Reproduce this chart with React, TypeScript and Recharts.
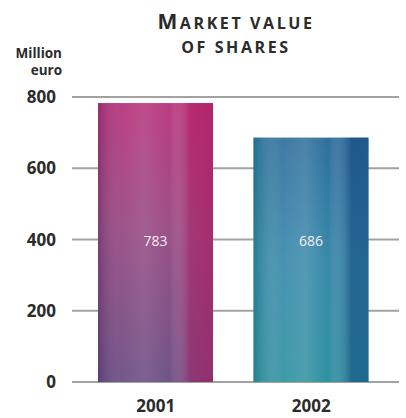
import { BarChart, Bar, XAxis, YAxis, CartesianGrid, LabelList } from 'recharts'

const years = ['2001', '2002']
const marketValue = [783, 686]
const yTicks = [0, 200, 400, 600, 800]

const data = years.map((year, i) => ({ year, value: marketValue[i] }))

const font = '"Open Sans", "DejaVu Sans", sans-serif'

// each bar gets a vertical base gradient plus a streaky horizontal overlay
const BarShape = (props: any) => {
  const { x, y, width, height, index } = props
  const id = index === 0 ? 'pink' : 'blue'
  return (
    <g>
      <rect x={x} y={y} width={width} height={height} fill={`url(#${id}-base)`} />
      <rect x={x} y={y} width={width} height={height} fill={`url(#${id}-streak)`} />
    </g>
  )
}

const ValueLabel = (props: any) => {
  const { x, y, width, height, value } = props
  return (
    <text
      x={x + width / 2}
      y={y + height - 140}
      textAnchor="middle"
      dominantBaseline="middle"
      fill="#f4eef4"
      fontSize={14}
      fontFamily={font}
    >
      {value}
    </text>
  )
}

export default function App() {
  return (
    <div style={{ position: 'absolute', left: 0, top: 0, width: 406, height: 418, background: '#fff', fontFamily: font }}>
      <div
        style={{
          position: 'absolute',
          left: 116,
          width: 240,
          top: 9,
          textAlign: 'center',
          fontWeight: 700,
          color: '#2b2b2b',
          letterSpacing: 2.6,
          lineHeight: '24px',
        }}
      >
        <div>
          <span style={{ fontSize: 21 }}>M</span>
          <span style={{ fontSize: 16 }}>ARKET VALUE</span>
        </div>
        <div style={{ fontSize: 16 }}>OF SHARES</div>
      </div>
      <div
        style={{
          position: 'absolute',
          left: 0,
          width: 62,
          top: 45,
          textAlign: 'right',
          fontWeight: 700,
          fontSize: 13.5,
          lineHeight: '17px',
          color: '#2b2b2b',
        }}
      >
        Million
        <br />
        euro
      </div>
      <BarChart
        width={406}
        height={418}
        data={data}
        margin={{ top: 97, right: 7, left: 0, bottom: 0 }}
        barSize={115}
      >
        <defs>
          <linearGradient id="pink-base" x1="0" y1="0" x2="0" y2="1">
            <stop offset="0%" stopColor="#b52f78" />
            <stop offset="45%" stopColor="#94457f" />
            <stop offset="100%" stopColor="#66497f" />
          </linearGradient>
          <linearGradient id="pink-streak" x1="0" y1="0" x2="1" y2="0">
            <stop offset="0%" stopColor="#3a1f50" stopOpacity={0.25} />
            <stop offset="20%" stopColor="#ffffff" stopOpacity={0.08} />
            <stop offset="40%" stopColor="#ffffff" stopOpacity={0.14} />
            <stop offset="62%" stopColor="#ffffff" stopOpacity={0.06} />
            <stop offset="80%" stopColor="#b82468" stopOpacity={0.45} />
            <stop offset="100%" stopColor="#b01e62" stopOpacity={0.6} />
          </linearGradient>
          <linearGradient id="blue-base" x1="0" y1="0" x2="0" y2="1">
            <stop offset="0%" stopColor="#2a6b9a" />
            <stop offset="50%" stopColor="#3486a8" />
            <stop offset="100%" stopColor="#2a8e9e" />
          </linearGradient>
          <linearGradient id="blue-streak" x1="0" y1="0" x2="1" y2="0">
            <stop offset="0%" stopColor="#0f6f7c" stopOpacity={0.45} />
            <stop offset="25%" stopColor="#ffffff" stopOpacity={0.1} />
            <stop offset="45%" stopColor="#ffffff" stopOpacity={0.16} />
            <stop offset="65%" stopColor="#ffffff" stopOpacity={0.02} />
            <stop offset="85%" stopColor="#123f78" stopOpacity={0.45} />
            <stop offset="100%" stopColor="#164a80" stopOpacity={0.55} />
          </linearGradient>
        </defs>
        <CartesianGrid vertical={false} stroke="#a2a2a2" strokeWidth={2} />
        <XAxis
          dataKey="year"
          height={36}
          axisLine={false}
          tickLine={false}
          padding={{ left: 6, right: 10 }}
          tickMargin={12}
          tick={{ fill: '#2b2b2b', fontSize: 17, fontWeight: 700, fontFamily: font }}
        />
        <YAxis
          width={72}
          domain={[0, 800]}
          ticks={yTicks}
          axisLine={false}
          tickLine={false}
          tickMargin={10}
          tick={{ fill: '#2b2b2b', fontSize: 17, fontWeight: 700, fontFamily: font }}
        />
        <Bar dataKey="value" shape={<BarShape />} isAnimationActive={false}>
          <LabelList dataKey="value" content={<ValueLabel />} />
        </Bar>
      </BarChart>
    </div>
  )
}
